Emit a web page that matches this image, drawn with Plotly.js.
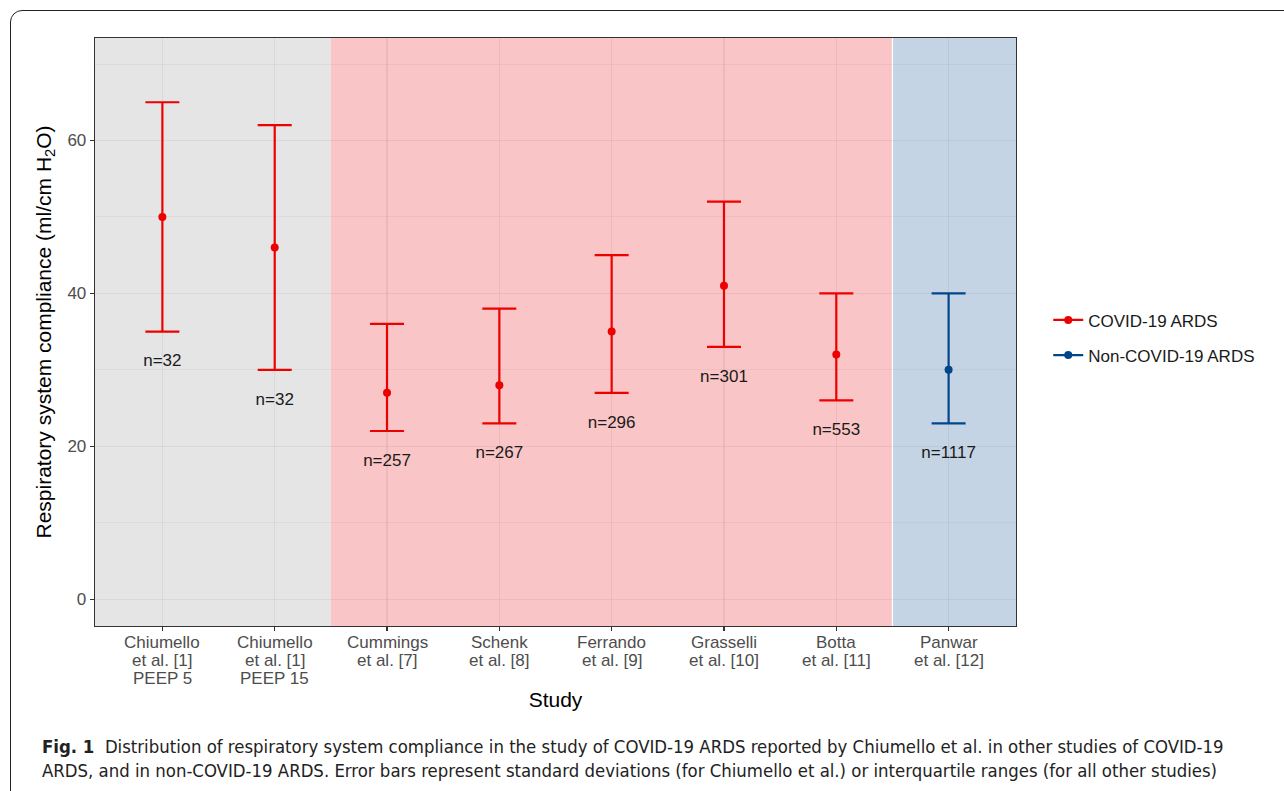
<!DOCTYPE html>
<html>
<head>
<meta charset="utf-8">
<script src="https://cdn.plot.ly/plotly-3.0.1.min.js"></script>
<style>
  html, body { margin: 0; padding: 0; background: #ffffff; }
  #wrap { position: relative; width: 1284px; height: 791px; overflow: hidden; }
  #frame { position: absolute; left: 10px; top: 10px; width: 1300px; height: 820px;
           border: 1.5px solid #222; border-radius: 12px 0 0 0; box-sizing: border-box; }
  #chart { position: absolute; left: 0; top: 0; width: 1284px; height: 791px; }
</style>
</head>
<body>
<div id="wrap">
  <div id="frame"></div>
  <div id="chart"></div>
</div>
<script>
// ---- data ----
const studies = [
  "Chiumello et al. [1] PEEP 5",
  "Chiumello et al. [1] PEEP 15",
  "Cummings et al. [7]",
  "Schenk et al. [8]",
  "Ferrando et al. [9]",
  "Grasselli et al. [10]",
  "Botta et al. [11]",
  "Panwar et al. [12]"
];
const studyLabelLines = [
  ["Chiumello", "et al. [1]", "PEEP 5"],
  ["Chiumello", "et al. [1]", "PEEP 15"],
  ["Cummings", "et al. [7]"],
  ["Schenk", "et al. [8]"],
  ["Ferrando", "et al. [9]"],
  ["Grasselli", "et al. [10]"],
  ["Botta", "et al. [11]"],
  ["Panwar", "et al. [12]"]
];
const centre = [50, 46, 27, 28, 35, 41, 32, 30];
const upper  = [65, 62, 36, 38, 45, 52, 40, 40];
const lower  = [35, 30, 22, 23, 27, 33, 26, 23];
const nLabels = ["n=32", "n=32", "n=257", "n=267", "n=296", "n=301", "n=553", "n=1117"];
const group = ["COVID-19 ARDS", "COVID-19 ARDS", "COVID-19 ARDS", "COVID-19 ARDS",
               "COVID-19 ARDS", "COVID-19 ARDS", "COVID-19 ARDS", "Non-COVID-19 ARDS"];
const groupNames = ["COVID-19 ARDS", "Non-COVID-19 ARDS"];
const groupColors = {"COVID-19 ARDS": "#ED0000", "Non-COVID-19 ARDS": "#00468B"};
const labelOffset = 4;

const FONT = "Liberation Sans, Arial, Helvetica, sans-serif";
const CAPFONT = "Liberation Sans Narrow, DejaVu Sans Condensed, Arial Narrow, sans-serif";
const traces = [];

groupNames.forEach((g, gi) => {
  const idx = studies.map((s, i) => i).filter(i => group[i] === g);
  const col = groupColors[g];
  traces.push({
    type: "scatter", mode: "markers",
    x: idx.map(i => studies[i]),
    y: idx.map(i => centre[i]),
    marker: {color: col, size: 8},
    error_y: {type: "data", symmetric: false,
      array: idx.map(i => upper[i] - centre[i]),
      arrayminus: idx.map(i => centre[i] - lower[i]),
      color: col, thickness: 2.2, width: 17},
    showlegend: false, hoverinfo: "skip", cliponaxis: false
  });
  // legend entry
  traces.push({
    type: "scatter", mode: "lines+markers", x: [null], y: [null], name: g,
    legendgroup: "g" + gi,
    line: {color: col, width: 2.2}, marker: {color: col, size: 8},
    showlegend: true
  });
});

traces.push({
  type: "scatter", mode: "text",
  x: studies, y: lower.map(v => v - labelOffset), text: nLabels,
  textposition: "middle center",
  textfont: {family: FONT, size: 17, color: "#1a1a1a"},
  showlegend: false, hoverinfo: "skip"
});

const bgRects = [
  {x0: -0.6, x1: 1.5, color: "#E5E5E5"},
  {x0: 1.5, x1: 6.5, color: "#FAC5C6"},
  {x0: 6.5, x1: 7.6, color: "#C5D4E4"}
];
const shapes = bgRects.map(r => ({
  type: "rect", xref: "x", yref: "paper", x0: r.x0, x1: r.x1, y0: 0, y1: 1,
  fillcolor: r.color, line: {width: 0}, layer: "below"
}));
shapes.push({type: "line", xref: "x", yref: "paper", x0: 6.5, x1: 6.5, y0: 0, y1: 1,
  line: {color: "#ffffff", width: 1.2}, layer: "below"});

// category tick labels, one line each (tighter line spacing than Plotly's <br>)
const annotations = [];
studyLabelLines.forEach((lines, i) => {
  lines.forEach((ln, k) => {
    annotations.push({
      xref: "x", yref: "paper", x: studies[i], y: 0, yanchor: "middle", xanchor: "center",
      yshift: -(16 + 18 * k), showarrow: false, text: ln,
      font: {family: FONT, size: 17, color: "#4D4D4D"}
    });
  });
});
annotations.push(
  {xref: "paper", yref: "paper", x: (40 - 95) / 921, y: (626 - 746) / 588,
   xanchor: "left", yanchor: "middle", showarrow: false, align: "left",
   text: "<b>Fig. 1</b>  Distribution of respiratory system compliance in the study of COVID-19 ARDS reported by Chiumello et al. in other studies of COVID-19",
   font: {family: CAPFONT, size: 18.4, color: "#222222"}},
  {xref: "paper", yref: "paper", x: (40 - 95) / 921, y: (626 - 770) / 588,
   xanchor: "left", yanchor: "middle", showarrow: false, align: "left",
   text: "ARDS, and in non-COVID-19 ARDS. Error bars represent standard deviations (for Chiumello et al.) or interquartile ranges (for all other studies)",
   font: {family: CAPFONT, size: 18.4, color: "#222222"}}
);

const layout = {
  width: 1284, height: 791,
  margin: {l: 95, r: 268, t: 38, b: 165},
  paper_bgcolor: "rgba(0,0,0,0)",
  plot_bgcolor: "#ffffff",
  font: {family: FONT, color: "#1a1a1a"},
  shapes: shapes,
  xaxis: {
    type: "category", categoryorder: "array", categoryarray: studies,
    range: [-0.6, 7.6],
    showgrid: true, gridcolor: "rgba(0,0,0,0.05)", gridwidth: 1.2,
    showline: true, linecolor: "#333333", linewidth: 1.3, mirror: true,
    ticks: "outside", ticklen: 4, tickcolor: "#333333", tickwidth: 1.3,
    showticklabels: false,
    title: {text: "Study", font: {family: FONT, size: 21, color: "#000000"}, standoff: 62},
    zeroline: false, fixedrange: true
  },
  yaxis: {
    range: [-3.5, 73.4],
    tickvals: [0, 20, 40, 60],
    showgrid: true, gridcolor: "rgba(0,0,0,0.05)", gridwidth: 1.2,
    minor: {tickvals: [10, 30, 50, 70], showgrid: true, gridcolor: "rgba(0,0,0,0.04)", gridwidth: 1, ticks: ""},
    showline: true, linecolor: "#333333", linewidth: 1.3, mirror: true,
    ticks: "outside", ticklen: 4, tickcolor: "#333333", tickwidth: 1.3,
    tickfont: {family: FONT, size: 17, color: "#4D4D4D"},
    title: {text: "Respiratory system compliance (ml/cm H<sub>2</sub>O)",
            font: {family: FONT, size: 21, color: "#000000"}, standoff: 10},
    zeroline: false, fixedrange: true
  },
  legend: {
    x: 1.035, xanchor: "left", y: 0.49, yanchor: "middle",
    font: {family: FONT, size: 17, color: "#1a1a1a"},
    bgcolor: "rgba(0,0,0,0)", itemwidth: 30, tracegroupgap: 10
  },
  annotations: annotations
};

Plotly.newPlot("chart", traces, layout, {displayModeBar: false, staticPlot: true});
</script>
</body>
</html>
